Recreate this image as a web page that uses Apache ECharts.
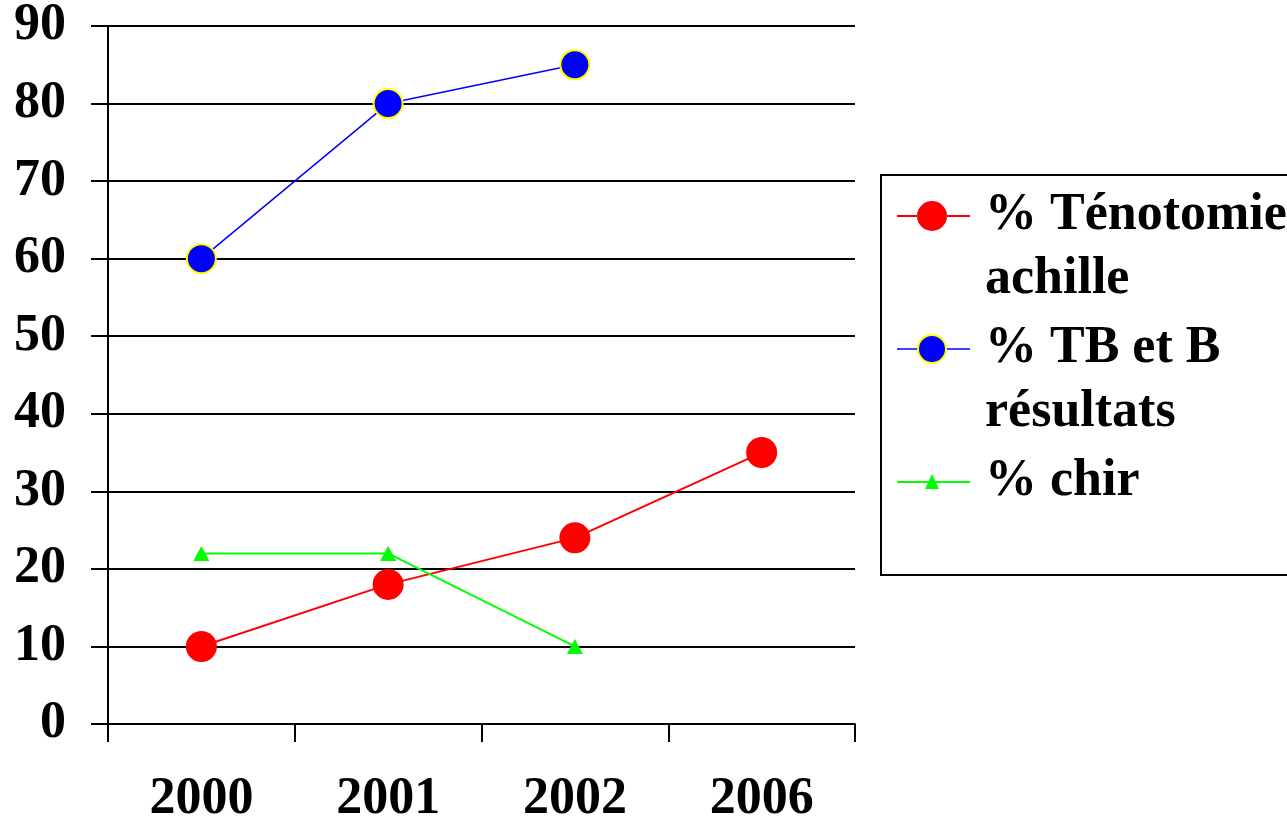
<!DOCTYPE html>
<html>
<head>
<meta charset="utf-8">
<script src="https://cdn.jsdelivr.net/npm/echarts@6/dist/echarts.min.js"></script>
<style>html,body{margin:0;padding:0;background:#fff}#c{width:1287px;height:829px}</style>
</head>
<body>
<div id="c"></div>
<script>
var categories = ['2000', '2001', '2002', '2006'];
var tenotomie = [10, 18, 24, 35];
var tbEtB = [60, 80, 85, null];
var chir = [22, 22, 10, null];
var seriesNames = ['% Ténotomie\nachille', '% TB et B\nrésultats', '% chir'];
var yTicks = [0, 10, 20, 30, 40, 50, 60, 70, 80, 90];

var FONT = "'Liberation Serif', 'Times New Roman', serif";
var chart = echarts.init(document.getElementById('c'), null, {renderer: 'canvas'});

var legendRows = [216, 349, 482];
var legendGraphics = [
  {type: 'rect', left: 880, top: 174, shape: {width: 430, height: 400},
   style: {fill: '#fff', stroke: '#000', lineWidth: 2}, z: 1}
];
var colors = ['#FF0000', '#0000FF', '#00FF00'];
seriesNames.forEach(function (name, i) {
  var y = legendRows[i];
  legendGraphics.push({type: 'line', shape: {x1: 897, y1: y, x2: 970, y2: y},
    style: {stroke: colors[i], lineWidth: i === 1 ? 1.5 : 2}, z: 2});
  if (i === 0) {
    legendGraphics.push({type: 'circle', shape: {cx: 932, cy: y, r: 15}, style: {fill: '#FF0000'}, z: 3});
  } else if (i === 1) {
    legendGraphics.push({type: 'circle', shape: {cx: 932, cy: y, r: 14}, style: {fill: '#0000FF', stroke: '#FFFF00', lineWidth: 2}, z: 3});
  } else {
    legendGraphics.push({type: 'polygon', shape: {points: [[932, y - 8], [939, y + 7], [925, y + 7]]}, style: {fill: '#00FF00'}, z: 3});
  }
  name.split('\n').forEach(function (line, k) {
    legendGraphics.push({type: 'text', x: 985, y: y + k * 64,
      style: {text: line, fill: '#000', font: 'bold 52px ' + FONT, textVerticalAlign: 'middle', textAlign: 'left'}, z: 3});
  });
});

chart.setOption({
  animation: false,
  backgroundColor: '#fff',
  grid: {left: 108, right: 432, top: 24, bottom: 105, containLabel: false},
  xAxis: {
    type: 'category',
    data: categories,
    boundaryGap: true,
    axisLine: {show: true, lineStyle: {color: '#000', width: 2}},
    axisTick: {show: true, length: 18, lineStyle: {color: '#000', width: 2}},
    axisLabel: {color: '#000', fontSize: 52, fontWeight: 'bold', fontFamily: FONT, margin: 50},
    splitLine: {show: false}
  },
  yAxis: {
    type: 'value',
    min: yTicks[0], max: yTicks[yTicks.length - 1], interval: 10,
    axisLine: {show: true, lineStyle: {color: '#000', width: 2}},
    axisTick: {show: true, length: 17, lineStyle: {color: '#000', width: 2}},
    axisLabel: {color: '#000', fontSize: 52, fontWeight: 'bold', fontFamily: FONT, margin: 42},
    splitLine: {show: true, lineStyle: {color: '#000', width: 2}}
  },
  graphic: legendGraphics,
  series: [
    {name: seriesNames[0], type: 'line', data: tenotomie,
     lineStyle: {color: '#FF0000', width: 2}, itemStyle: {color: '#FF0000'},
     symbol: 'circle', symbolSize: 31, z: 3},
    {name: seriesNames[1], type: 'line', data: tbEtB,
     lineStyle: {color: '#0000FF', width: 1.5}, itemStyle: {color: '#0000FF', borderColor: '#FFFF00', borderWidth: 2},
     symbol: 'circle', symbolSize: 29, z: 2},
    {name: seriesNames[2], type: 'line', data: chir,
     lineStyle: {color: '#00FF00', width: 2}, itemStyle: {color: '#00FF00'},
     symbol: 'triangle', symbolSize: [16, 15], z: 4}
  ]
});
</script>
</body>
</html>
